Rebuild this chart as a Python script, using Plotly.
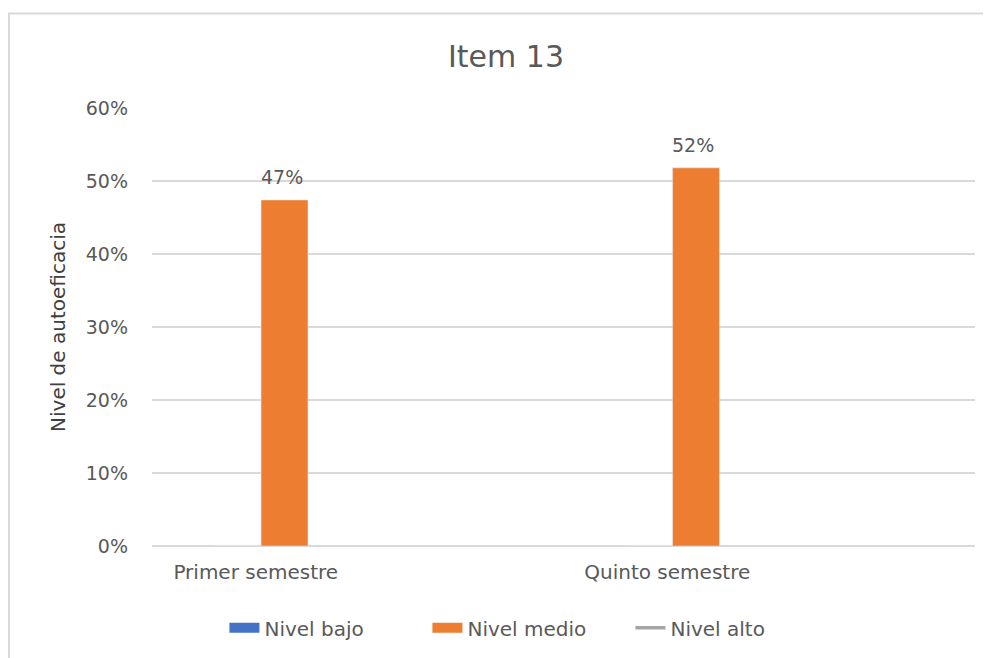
import plotly.graph_objects as go

# Data
categories = ["Primer semestre", "Quinto semestre"]
nivel_bajo = [0, 0]
nivel_medio = [0.474, 0.518]
nivel_alto = [None, None]

FONT = "'DejaVu Sans', sans-serif"
GRAY = "#595959"
BLUE, ORANGE, LGRAY = "#4472C4", "#ED7D31", "#A5A5A5"

fig = go.Figure()

# bars (legend entries drawn by proxies below to get the wide Excel swatches)
fig.add_trace(go.Bar(
    x=categories, y=nivel_bajo, name="Nivel bajo",
    marker=dict(color=BLUE), offset=-0.35, width=0.114,
    showlegend=False, hoverinfo="skip",
))
fig.add_trace(go.Bar(
    x=categories, y=nivel_medio, name="Nivel medio",
    marker=dict(color=ORANGE), offset=-0.235, width=0.114,
    showlegend=False,
))

# legend proxies
fig.add_trace(go.Scatter(x=[None], y=[None], mode="lines", name="Nivel bajo",
                         line=dict(color=BLUE, width=12)))
fig.add_trace(go.Scatter(x=[None], y=[None], mode="lines", name="Nivel medio",
                         line=dict(color=ORANGE, width=12)))
fig.add_trace(go.Scatter(
    x=categories, y=nivel_alto, name="Nivel alto", mode="lines",
    line=dict(color=LGRAY, width=3.5),
))

# data labels above the orange bars
for cat, val in zip(categories, nivel_medio):
    fig.add_annotation(
        x=cat, y=val, text=f"{val:.0%}", showarrow=False,
        xanchor="center", yanchor="bottom", xshift=-76, yshift=10,
        font=dict(size=19, color=GRAY, family=FONT),
    )

fig.update_layout(
    width=983, height=650,
    paper_bgcolor="white", plot_bgcolor="white",
    font=dict(family=FONT, color=GRAY, size=19),
    title=dict(text="Item 13", x=0.5066, xanchor="center", y=0.926, yanchor="middle",
               font=dict(size=30, color=GRAY, family=FONT)),
    barmode="overlay",
    showlegend=True,
    legend=dict(orientation="h", x=0.088, xanchor="left", y=-0.184, yanchor="middle",
                font=dict(size=20, color=GRAY, family=FONT),
                entrywidth=158, entrywidthmode="pixels",
                traceorder="normal"),
    margin=dict(l=144, r=16, t=100, b=111),
    shapes=[dict(type="rect", xref="paper", yref="paper",
                 x0=-0.1738, x1=1.3, y0=-0.5, y1=1.216,
                 line=dict(color="#D9D9D9", width=2))],
)

fig.update_xaxes(
    type="category", range=[-0.5, 1.5],
    showgrid=False, showline=False, ticks="",
    ticklabelshift=-102, ticklabelstandoff=12,
    tickfont=dict(size=20, color=GRAY, family=FONT),
)
fig.update_yaxes(
    range=[0, 0.6], dtick=0.1, tickformat=".0%",
    showgrid=True, gridcolor="#D9D9D9", gridwidth=1.5,
    zeroline=True, zerolinecolor="#D9D9D9", zerolinewidth=1.5,
    showline=False, ticks="", ticklabelstandoff=23,
    tickfont=dict(size=19, color=GRAY, family=FONT),
    title=dict(text="Nivel de autoeficacia", standoff=14,
               font=dict(size=20, color="#404040", family=FONT)),
)

fig.write_html("out.html")
